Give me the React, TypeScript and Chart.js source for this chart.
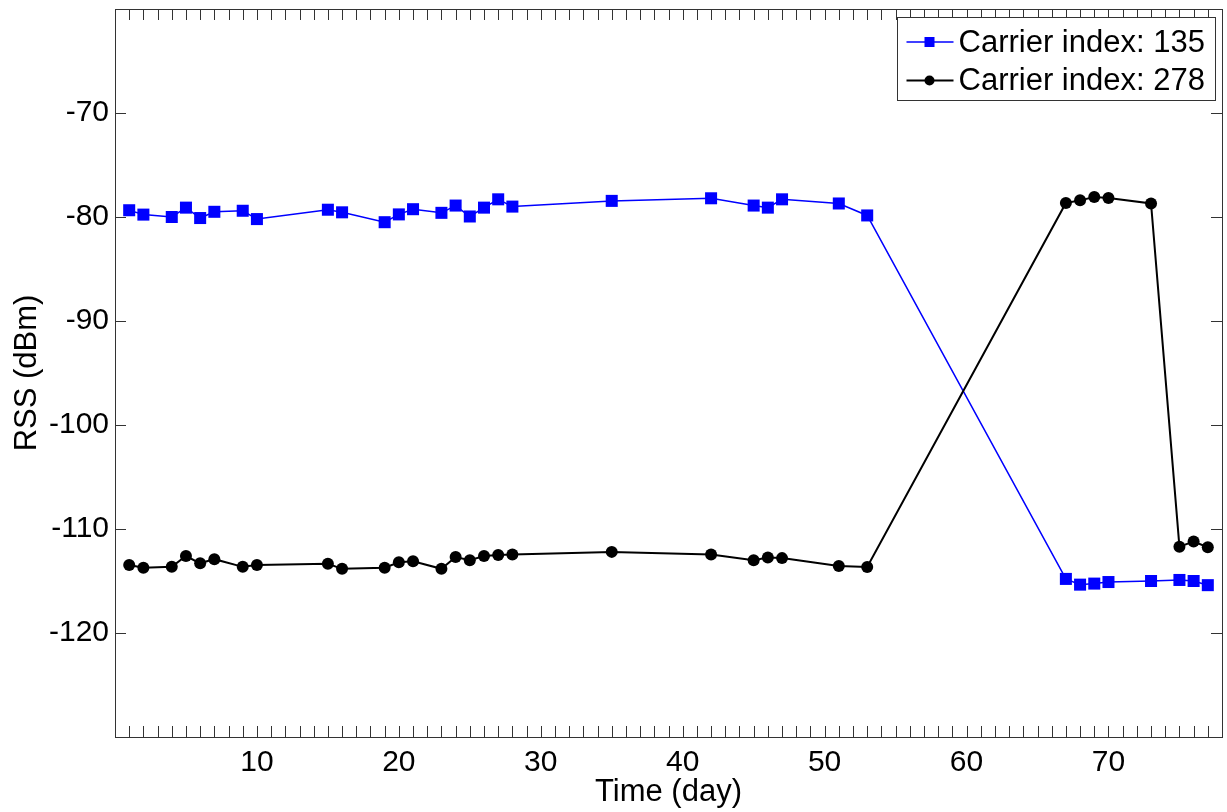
import React, { useEffect, useRef } from "react";
import { Chart, registerables } from "chart.js";

Chart.register(...registerables);

const days = [1, 2, 4, 5, 6, 7, 9, 10, 15, 16, 19, 20, 21, 23, 24, 25, 26, 27, 28, 35, 42, 45, 46, 47, 51, 53, 67, 68, 69, 70, 73, 75, 76, 77];
const rss135 = [-79.35, -79.77, -80.0, -79.1, -80.1, -79.5, -79.4, -80.2, -79.3, -79.55, -80.5, -79.75, -79.25, -79.6, -78.9, -79.95, -79.1, -78.3, -79.0, -78.45, -78.2, -78.9, -79.1, -78.3, -78.7, -79.85, -114.8, -115.35, -115.25, -115.1, -115.0, -114.9, -115.0, -115.4];
const rss278 = [-113.47, -113.73, -113.64, -112.6, -113.3, -112.9, -113.64, -113.47, -113.35, -113.83, -113.73, -113.2, -113.1, -113.83, -112.7, -113.0, -112.6, -112.5, -112.45, -112.2, -112.45, -113.0, -112.75, -112.8, -113.55, -113.65, -78.65, -78.4, -78.07, -78.17, -78.7, -111.7, -111.2, -111.75];
const seriesLabels = ["Carrier index: 135", "Carrier index: 278"];
const xLabelTicks = [10, 20, 30, 40, 50, 60, 70];
const yLabelTicks = [-70, -80, -90, -100, -110, -120];
const xMinorStep = 1;

const FONT = "'Liberation Sans', Arial, Helvetica, sans-serif";
const AXIS = "#333333";
const TICK = 11;

const framePlugin = {
  id: "frame",
  afterDraw(chart: any) {
    const { ctx, chartArea, scales } = chart;
    const { left, right, top, bottom } = chartArea;
    const x = scales.x;
    const y = scales.y;
    ctx.save();
    ctx.strokeStyle = AXIS;
    ctx.lineWidth = 1;
    ctx.beginPath();
    for (let v = x.min + xMinorStep; v < x.max; v += xMinorStep) {
      const px = Math.round(x.getPixelForValue(v)) + 0.5;
      ctx.moveTo(px, bottom);
      ctx.lineTo(px, bottom - TICK);
      ctx.moveTo(px, top);
      ctx.lineTo(px, top + TICK);
    }
    yLabelTicks.forEach((v) => {
      const py = Math.round(y.getPixelForValue(v)) + 0.5;
      ctx.moveTo(left, py);
      ctx.lineTo(left + TICK, py);
      ctx.moveTo(right, py);
      ctx.lineTo(right - TICK, py);
    });
    ctx.stroke();
    ctx.strokeRect(Math.round(left) + 0.5, Math.round(top) + 0.5, Math.round(right - left), Math.round(bottom - top));

    // legend
    const bw = 318;
    const bh = 83;
    const bx = Math.round(right) - 6.5 - bw;
    const by = Math.round(top) + 8.5;
    ctx.fillStyle = "#ffffff";
    ctx.fillRect(bx, by, bw, bh);
    ctx.strokeStyle = AXIS;
    ctx.strokeRect(bx, by, bw, bh);
    const rows = [by + 24.5, by + 63];
    chart.data.datasets.forEach((ds: any, i: number) => {
      const ry = rows[i];
      ctx.strokeStyle = ds.borderColor;
      ctx.lineWidth = ds.borderWidth;
      ctx.beginPath();
      ctx.moveTo(bx + 9, ry);
      ctx.lineTo(bx + 56, ry);
      ctx.stroke();
      ctx.fillStyle = ds.pointBackgroundColor;
      if (ds.pointStyle === "rect") {
        ctx.fillRect(bx + 32 - 5, ry - 5, 10, 10);
      } else {
        ctx.beginPath();
        ctx.arc(bx + 32, ry, 5, 0, Math.PI * 2);
        ctx.fill();
      }
      ctx.fillStyle = "#000000";
      ctx.font = `31px ${FONT}`;
      ctx.textBaseline = "middle";
      ctx.textAlign = "left";
      ctx.fillText(ds.label, bx + 61, ry + 1);
    });
    ctx.restore();
  },
};

export default function App() {
  const ref = useRef<HTMLCanvasElement | null>(null);
  useEffect(() => {
    if (!ref.current) return;
    const chart = new Chart(ref.current, {
      type: "line",
      data: {
        datasets: [
          {
            label: seriesLabels[0],
            data: days.map((d, i) => ({ x: d, y: rss135[i] })),
            borderColor: "#0000ff",
            backgroundColor: "#0000ff",
            pointBackgroundColor: "#0000ff",
            pointBorderColor: "#0000ff",
            borderWidth: 1.5,
            pointStyle: "rect",
            pointRadius: 8.5,
            pointBorderWidth: 0,
            tension: 0,
            order: 1,
          },
          {
            label: seriesLabels[1],
            data: days.map((d, i) => ({ x: d, y: rss278[i] })),
            borderColor: "#000000",
            backgroundColor: "#000000",
            pointBackgroundColor: "#000000",
            pointBorderColor: "#000000",
            borderWidth: 2,
            pointStyle: "circle",
            pointRadius: 6,
            pointBorderWidth: 0,
            tension: 0,
            order: 0,
          },
        ] as any,
      },
      options: {
        animation: false,
        responsive: false,
        layout: { autoPadding: false, padding: { top: 9, right: 5, left: 0, bottom: 0 } },
        plugins: { legend: { display: false }, tooltip: { enabled: false } },
        scales: {
          x: {
            type: "linear",
            min: 0,
            max: 78,
            afterFit(scale: any) {
              scale.height = 75;
              scale.paddingLeft = 0;
              scale.paddingRight = 0;
            },
            afterBuildTicks(scale: any) {
              scale.ticks = xLabelTicks.map((v) => ({ value: v }));
            },
            grid: { display: false, drawTicks: false },
            border: { display: false },
            ticks: {
              autoSkip: false,
              maxRotation: 0,
              padding: 8,
              color: "#000000",
              font: { family: FONT, size: 30 },
            },
            title: {
              display: true,
              text: "Time (day)",
              color: "#000000",
              font: { family: FONT, size: 31 },
              padding: { top: 0, bottom: 1 },
            },
          },
          y: {
            type: "linear",
            min: -130,
            max: -60,
            afterFit(scale: any) {
              scale.width = 115;
              scale.paddingTop = 0;
              scale.paddingBottom = 0;
            },
            afterBuildTicks(scale: any) {
              scale.ticks = yLabelTicks.map((v) => ({ value: v }));
            },
            grid: { display: false, drawTicks: false },
            border: { display: false },
            ticks: {
              autoSkip: false,
              padding: 6,
              color: "#000000",
              font: { family: FONT, size: 30 },
            },
            title: {
              display: true,
              text: "RSS (dBm)",
              color: "#000000",
              font: { family: FONT, size: 31 },
              padding: { top: 9, bottom: 0 },
            },
          },
        },
      },
      plugins: [framePlugin],
    });
    return () => chart.destroy();
  }, []);
  return (
    <div style={{ position: "fixed", left: 0, top: 0, width: 1227, height: 812, background: "#ffffff" }}>
      <canvas ref={ref} width={1227} height={812} style={{ width: 1227, height: 812, display: "block" }} />
    </div>
  );
}
